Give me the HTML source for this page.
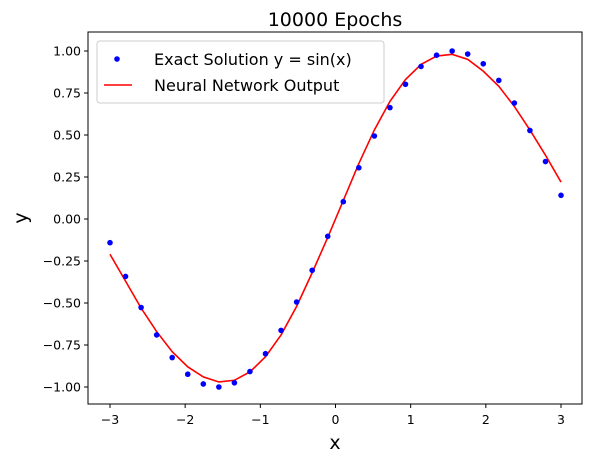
<!DOCTYPE html>
<html><head><meta charset="utf-8"><style>
html,body{margin:0;padding:0;background:#fff;}
svg{display:block;font-family:"DejaVu Sans","Liberation Sans",sans-serif;}
</style></head><body>
<svg id="chart" width="593" height="463" xmlns="http://www.w3.org/2000/svg">
<rect x="0" y="0" width="593" height="463" fill="#fff"/>
<text x="335" y="26" font-size="19" text-anchor="middle">10000 Epochs</text>
<g id="marks"></g>
<rect x="88" y="32" width="494" height="372" fill="none" stroke="#000" stroke-width="1"/>
<g id="axes"></g>
<text x="335" y="449" font-size="19" text-anchor="middle">x</text>
<text x="0" y="0" font-size="19" text-anchor="middle" transform="translate(27,218) rotate(-90)">y</text>
<g>
<rect x="97" y="41" width="287" height="62" rx="3" fill="#fff" fill-opacity="0.8" stroke="#ccc" stroke-width="1"/>
<circle cx="117" cy="59" r="2.8" fill="#0000ff"/>
<text x="154" y="65" font-size="16">Exact Solution y = sin(x)</text>
<line x1="104" y1="85" x2="132" y2="85" stroke="#ff0000" stroke-width="1.6"/>
<text x="154" y="91" font-size="16">Neural Network Output</text>
</g>
</svg>
<script>
const xValues=[-3,-2.7931,-2.5862,-2.3793,-2.1724,-1.9655,-1.7586,-1.5517,-1.3448,-1.1379,-0.9310,-0.7241,-0.5172,-0.3103,-0.1034,0.1034,0.3103,0.5172,0.7241,0.9310,1.1379,1.3448,1.5517,1.7586,1.9655,2.1724,2.3793,2.5862,2.7931,3];
const exactValues=[-0.141,-0.342,-0.527,-0.690,-0.825,-0.924,-0.982,-1.000,-0.975,-0.908,-0.802,-0.663,-0.494,-0.305,-0.103,0.103,0.305,0.494,0.663,0.802,0.908,0.975,1.000,0.982,0.924,0.825,0.690,0.527,0.342,0.141];
const nnValues=[-0.21,-0.37,-0.53,-0.67,-0.79,-0.88,-0.94,-0.97,-0.96,-0.91,-0.82,-0.69,-0.52,-0.32,-0.11,0.11,0.33,0.53,0.70,0.83,0.92,0.97,0.98,0.95,0.88,0.79,0.67,0.53,0.38,0.22];
const xTicks=[-3,-2,-1,0,1,2,3];
const yTicks=[-1,-0.75,-0.5,-0.25,0,0.25,0.5,0.75,1];
const NS="http://www.w3.org/2000/svg";
const sx=v=>335.5+v*75.17;
const sy=v=>219-v*168;
const marks=document.getElementById('marks'),axes=document.getElementById('axes');
function mk(t,a,p){const e=document.createElementNS(NS,t);for(const k in a)e.setAttribute(k,a[k]);p.appendChild(e);return e;}
const line=mk('polyline',{points:xValues.map((x,i)=>sx(x)+','+sy(nnValues[i])).join(' '),fill:'none',stroke:'#ff0000','stroke-width':1.6},marks);


xValues.forEach((x,i)=>{const c=mk('circle',{cx:sx(x),cy:sy(exactValues[i]),r:2.8,fill:'#0000ff'},marks);

});
xTicks.forEach(t=>{const l=mk('line',{x1:sx(t),x2:sx(t),y1:404,y2:408,stroke:'#000'},axes);


const tx=mk('text',{x:sx(t),y:424,'font-size':12.5,'text-anchor':'middle'},axes);tx.textContent=(t<0?'\u2212'+(-t):t);

});
yTicks.forEach(t=>{const l=mk('line',{x1:84,x2:88,y1:sy(t),y2:sy(t),stroke:'#000'},axes);


const s=Math.abs(t).toFixed(2);
const tx=mk('text',{x:81,y:sy(t)+4.5,'font-size':12.5,'text-anchor':'end'},axes);tx.textContent=(t<0?'\u2212':'')+s;

});
</script>
</body></html>
